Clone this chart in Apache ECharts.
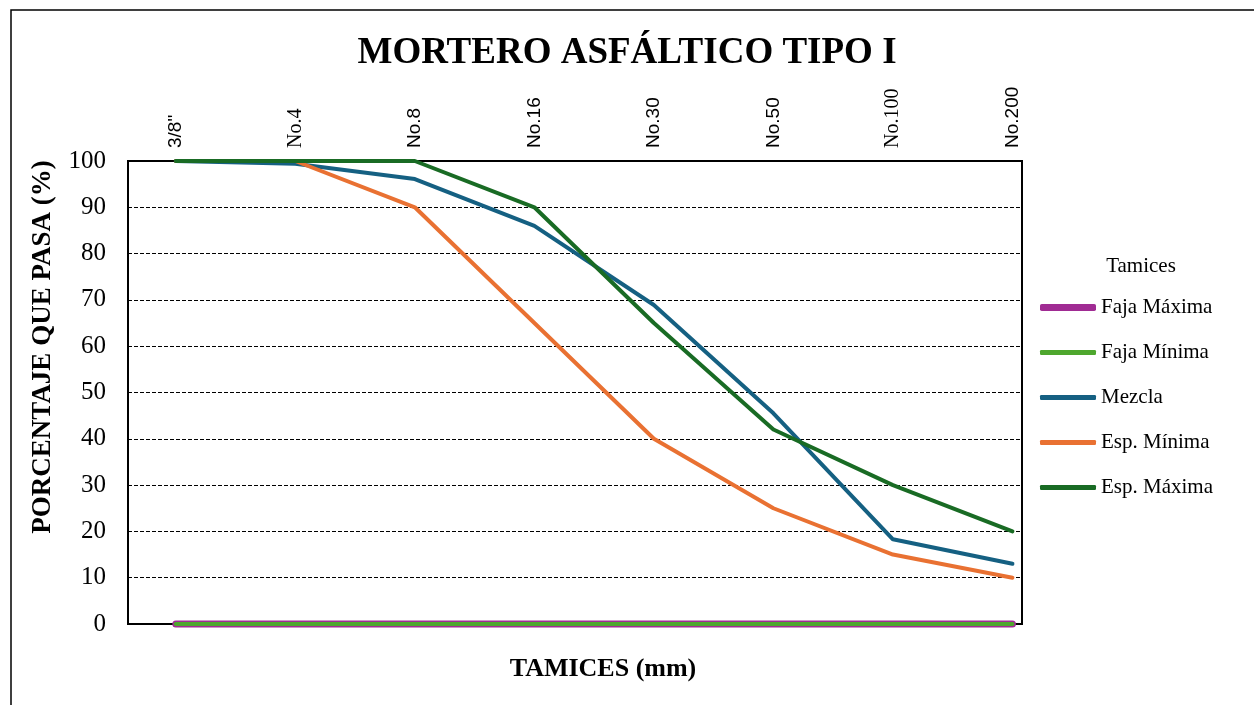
<!DOCTYPE html>
<html>
<head>
<meta charset="utf-8">
<script src="https://cdn.jsdelivr.net/npm/echarts@6/dist/echarts.min.js"></script>
<style>
  html, body { margin: 0; padding: 0; background: #fff; }
  #chart { width: 1254px; height: 705px; }
</style>
</head>
<body>
<div id="chart"></div>
<script>
// Sieve sizes (top axis) and passing percentages per curve
const tamices = ['3/8"', 'No.4', 'No.8', 'No.16', 'No.30', 'No.50', 'No.100', 'No.200'];
const fajaMaxima = [0, 0, 0, 0, 0, 0, 0, 0];
const fajaMinima = [0, 0, 0, 0, 0, 0, 0, 0];
const mezcla     = [100, 99.4, 96.1, 86.0, 68.9, 45.5, 18.3, 13.0];
const espMinima  = [100, 100, 90, 65, 40, 25, 15, 10];
const espMaxima  = [100, 100, 100, 90, 65, 42, 30, 20];
const yTicks = [0, 10, 20, 30, 40, 50, 60, 70, 80, 90, 100];

const serif = '"Liberation Serif", "Times New Roman", serif';
const sans = '"Liberation Sans", Arial, sans-serif';

const toPoints = arr => arr.map((v, i) => [i, v]);

function lineSeries(name, values, color, width) {
  return {
    name: name,
    type: 'line',
    data: toPoints(values),
    symbol: 'none',
    showSymbol: false,
    smooth: false,
    clip: false,
    z: 5,
    lineStyle: { color: color, width: width, cap: 'round', join: 'round' },
    itemStyle: { color: color },
    emphasis: { disabled: true },
    animation: false
  };
}

const legendText = { fontFamily: serif, fontSize: 21, color: '#000' };

const chart = echarts.init(document.getElementById('chart'), null, { renderer: 'canvas' });

chart.setOption({
  backgroundColor: '#ffffff',
  animation: false,
  title: [
    {
      text: 'MORTERO ASFÁLTICO TIPO I',
      left: 622, top: 30, textAlign: 'center',
      textStyle: { fontFamily: serif, fontWeight: 'bold', fontSize: 37, color: '#000' }
    },
    {
      text: 'TAMICES (mm)',
      left: 598, top: 651, textAlign: 'center',
      textStyle: { fontFamily: serif, fontWeight: 'bold', fontSize: 26, color: '#000' }
    },
    {
      text: 'Tamices',
      left: 1136, top: 251, textAlign: 'center',
      textStyle: { fontFamily: serif, fontWeight: 'normal', fontSize: 21, color: '#000' }
    }
  ],
  graphic: [
    {
      type: 'rect', silent: true, z: -1,
      shape: { x: 11, y: 10, width: 1300, height: 760 },
      style: { fill: null, stroke: '#000', lineWidth: 1.5 }
    },
    {
      type: 'text', silent: true,
      x: 43, y: 347, rotation: Math.PI / 2,
      style: {
        text: 'PORCENTAJE QUE PASA (%)',
        font: 'bold 27px ' + serif,
        fill: '#000', align: 'center', verticalAlign: 'middle'
      }
    }
  ],
  legend: [
    {
      orient: 'vertical',
      left: 1035, top: 292,
      icon: 'roundRect',
      itemWidth: 56, itemHeight: 7, itemGap: 0,
      textStyle: legendText,
      data: ['Faja Máxima']
    },
    {
      orient: 'vertical',
      left: 1035, top: 337,
      icon: 'roundRect',
      itemWidth: 56, itemHeight: 5, itemGap: 24,
      textStyle: legendText,
      data: ['Faja Mínima', 'Mezcla', 'Esp. Mínima', 'Esp. Máxima']
    }
  ],
  grid: {
    left: 128, right: 232, top: 161, bottom: 81,
    show: true, borderColor: '#000', borderWidth: 2, backgroundColor: 'transparent'
  },
  xAxis: {
    type: 'value',
    position: 'top',
    min: -0.4, max: 7.08,
    axisLine: { show: false },
    axisTick: { show: false },
    splitLine: { show: false },
    axisLabel: {
      customValues: tamices.map((t, i) => i),
      rotate: 90,
      margin: 13,
      color: '#000',
      fontFamily: sans,
      fontSize: 19,
      formatter: v => {
        const t = tamices[Math.round(v)];
        return (t === 'No.4' || t === 'No.100') ? '{s|' + t + '}' : t;
      },
      rich: { s: { fontFamily: serif, fontSize: 20, color: '#000' } }
    }
  },
  yAxis: {
    type: 'value',
    min: yTicks[0], max: yTicks[yTicks.length - 1], interval: 10,
    axisLine: { show: true, onZero: false, lineStyle: { color: '#000', width: 2 } },
    axisTick: { show: false },
    axisLabel: { color: '#000', fontFamily: serif, fontSize: 25, margin: 22 },
    splitLine: { show: true, lineStyle: { color: '#000', width: 1, type: [4, 2] } }
  },
  series: [
    lineSeries('Faja Máxima', fajaMaxima, '#A02B93', 7),
    lineSeries('Faja Mínima', fajaMinima, '#4EA72E', 4),
    lineSeries('Mezcla', mezcla, '#156082', 4),
    lineSeries('Esp. Mínima', espMinima, '#E97132', 4),
    lineSeries('Esp. Máxima', espMaxima, '#196B24', 4)
  ]
});
</script>
</body>
</html>
